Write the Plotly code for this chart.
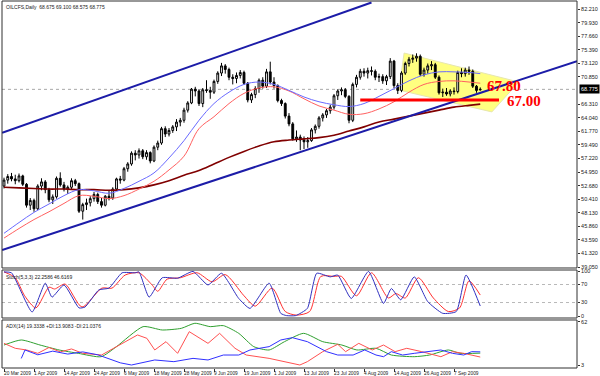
import plotly.graph_objects as go

# ---------------- data ----------------
opens = [52.6,53.6,54.2,53.8,53.5,54.3,52.9,49.4,50.2,48.8,52.6,53.3,52.0,50.3,50.8,53.9,52.8,52.1,52.4,53.5,
         53.0,48.4,49.5,49.8,50.5,51.2,50.0,49.4,50.9,50.6,52.1,53.8,53.6,55.5,56.3,58.1,57.8,58.5,57.5,58.2,
         56.8,59.1,59.8,62.2,61.3,61.9,62.5,63.3,63.6,65.3,66.5,68.8,68.5,66.4,68.7,68.6,68.3,70.1,71.5,72.7,
         72.1,70.8,70.6,71.1,71.6,69.8,67.0,67.9,68.9,70.3,69.3,71.7,70.0,69.4,66.9,66.4,64.3,63.0,60.5,60.8,
         60.3,60.0,60.2,62.0,62.6,64.0,64.5,65.2,65.8,67.7,68.5,68.7,67.6,63.6,69.6,70.8,71.8,71.5,71.9,71.8,
         70.8,70.9,70.2,70.9,73.5,69.4,68.6,71.5,73.1,73.8,74.0,74.3,71.3,72.0,72.7,72.9,70.8,68.2,68.3,68.0,
         68.5,68.4,71.6,71.4,72.0,71.8,69.3,68.675]
highs = [54.0,54.6,54.8,54.5,54.7,54.5,53.1,50.6,50.5,52.9,53.9,53.6,52.3,51.2,54.2,54.9,53.3,52.7,53.9,53.8,
         53.2,49.8,50.5,50.9,51.6,51.5,50.6,51.1,51.8,52.4,54.0,54.3,55.8,56.6,58.4,58.6,58.9,58.8,58.6,58.4,
         59.4,60.2,62.5,62.6,62.3,62.8,63.8,64.0,65.7,66.8,69.0,69.2,68.8,69.0,70.3,69.2,70.4,71.8,73.2,73.0,
         72.4,71.3,71.6,72.0,71.9,70.0,68.2,69.3,70.6,70.8,72.2,73.4,70.8,69.6,67.2,66.6,64.8,63.3,61.9,61.2,
         60.9,60.8,62.3,62.9,64.3,64.8,65.5,66.2,68.0,68.8,69.1,69.0,67.8,69.9,71.2,72.2,72.3,72.4,72.6,72.1,
         71.4,71.3,71.2,74.0,73.7,69.8,71.8,73.4,74.2,74.6,74.8,74.6,72.4,73.1,73.5,73.2,71.1,68.9,69.0,68.8,
         69.1,71.9,72.3,72.4,72.6,72.1,69.5,69.1]
lows = [52.2,53.0,53.4,52.9,53.2,52.6,49.0,48.6,48.3,48.6,51.9,51.4,49.9,49.6,50.5,52.5,51.7,51.3,52.1,52.6,
        48.1,47.0,48.6,49.2,50.0,49.6,49.0,49.2,50.2,50.3,51.9,53.0,53.4,55.0,56.0,56.9,57.2,57.1,57.0,56.4,
        56.6,58.6,59.5,60.8,60.9,61.5,61.8,62.6,63.2,64.9,66.3,67.6,66.0,65.8,68.2,67.2,68.0,69.7,71.0,71.4,
        70.3,69.6,69.8,70.6,69.5,66.6,66.5,67.3,68.2,68.9,69.0,69.6,68.9,66.6,66.0,63.9,62.6,60.2,60.0,58.6,
        58.8,59.0,60.0,61.4,62.2,63.4,64.0,64.7,65.4,67.0,67.8,67.3,63.1,63.3,69.1,70.4,70.9,70.6,71.1,70.3,
        70.0,69.7,69.5,70.5,69.0,68.0,68.3,71.2,72.6,73.2,73.4,71.0,70.9,71.4,72.0,70.5,67.9,67.5,67.7,67.6,
        67.9,68.1,70.8,70.9,71.2,69.0,68.2,68.575]
closes = [53.6,54.2,53.8,53.5,54.3,52.9,49.4,50.2,48.8,52.6,53.3,52.0,50.3,50.8,53.9,52.8,52.1,52.4,53.5,53.0,
          48.4,49.5,49.8,50.5,51.2,50.0,49.4,50.9,50.6,52.1,53.8,53.6,55.5,56.3,58.1,57.8,58.5,57.5,58.2,56.8,
          59.1,59.8,62.2,61.3,61.9,62.5,63.3,63.6,65.3,66.5,68.8,68.5,66.4,68.7,68.6,68.3,70.1,71.5,72.7,72.1,
          70.8,70.6,71.1,71.6,69.8,67.0,67.9,68.9,70.3,69.3,71.7,70.0,69.4,66.9,66.4,64.3,63.0,60.5,60.8,60.3,
          60.0,60.2,62.0,62.6,64.0,64.5,65.2,65.8,67.7,68.5,68.7,67.6,63.6,69.6,70.8,71.8,71.5,71.9,71.8,70.8,
          70.9,70.2,70.9,73.5,69.4,68.6,71.5,73.1,73.8,74.0,74.3,71.3,72.0,72.7,72.9,70.8,68.2,68.3,68.0,68.5,
          68.4,71.6,71.4,72.0,71.8,69.3,68.6,68.775]
bars = list(range(len(closes)))

date_labels = ["20 Mar 2009", "1 Apr 2009", "14 Apr 2009", "24 Apr 2009", "6 May 2009", "18 May 2009",
               "28 May 2009", "9 Jun 2009", "19 Jun 2009", "1 Jul 2009", "13 Jul 2009", "23 Jul 2009",
               "4 Aug 2009", "14 Aug 2009", "26 Aug 2009", "7 Sep 2009"]
date_label_bars = [0, 8, 16, 24, 32, 40, 48, 56, 64, 72, 80, 88, 96, 104, 112, 120]

ma_bars = [0,4,8,12,16,20,24,28,32,36,40,44,48,52,56,60,64,68,72,76,80,84,88,92,96,100,104,108,112,116,120,124,127]
ma_fast = [44.7,46.5,48.2,49.6,51.0,52.0,51.8,51.4,52.2,53.4,54.8,57.3,60.2,63.6,66.4,68.3,69.6,70.0,69.6,68.6,
           67.5,66.7,66.2,65.9,66.4,67.6,68.9,70.2,71.2,71.7,71.7,71.6,71.4]
ma_mid = [43.9,45.5,47.0,48.3,49.7,51.0,50.9,50.5,51.0,52.1,53.4,55.3,57.6,62.2,64.2,66.4,68.1,69.0,69.2,68.5,
          67.2,66.0,65.3,64.6,64.7,65.5,66.7,68.3,69.6,70.1,70.2,70.0,69.8]
ma_slow = [52.4,52.3,52.2,52.1,52.1,52.0,52.0,51.9,52.0,52.3,52.8,53.5,54.4,55.2,56.3,57.4,58.4,59.3,60.0,60.3,
           60.5,60.7,61.1,61.8,62.5,63.3,63.8,64.3,64.8,65.3,65.8,66.1,66.3]

channel_lower_x = [-0.5, 152.8]
channel_lower_y = [41.9, 73.5]
channel_upper_x = [-0.5, 98.0]
channel_upper_y = [61.5, 83.3]

triangle_x = [106.7, 137.3, 130.1, 105.3]
triangle_y = [74.85, 70.0, 65.0, 68.66]

support_x = [95, 132]
support_level = 67.00
label_6780 = "67.80"
label_6700 = "67.00"

price_tick_vals = [82.210, 79.938, 77.667, 75.395, 73.124, 70.852, 66.309, 64.038, 61.766, 59.495,
                   57.223, 54.952, 52.680, 50.409, 48.137, 45.866, 43.594, 41.323, 39.051]
price_tick_text = ["82.210", "79.930", "77.660", "75.390", "73.120", "70.850", "66.310", "64.040", "61.770",
                   "59.490", "57.220", "54.950", "52.680", "50.410", "48.130", "45.860", "43.590", "41.320", "39.050"]

stoch_k_x = [0, 2, 7.5, 11, 12.8, 16, 20, 21.6, 25.3, 28, 31.5, 35, 36, 38.7, 42.2, 46.3, 50.4, 54.4, 58, 62.6,
             65.6, 70.7, 73.8, 75.3, 77.8, 80.9, 83.4, 87, 89, 92.6, 97.2, 101.2, 103.3, 105.8, 109.4, 113, 117,
             120.6, 123.2, 127]
stoch_k = [98, 96, 9, 73, 42, 69, 18, 20, 58, 62, 96, 96, 98, 42, 85, 84, 99, 69, 95, 39,
           17, 73, 6, 1, 1, 17, 95, 87, 91, 39, 99, 28, 61, 36, 87, 32, 6,
           10, 91, 22.26]
stoch_d_x = [0, 3, 5.5, 8.5, 12, 13.5, 16.3, 20.8, 26.1, 28.8, 32.3, 36, 39.5, 41, 43.5, 47, 51.5, 55.5, 59, 64,
             67, 71.5, 75, 78, 81.5, 84.5, 88, 90, 94, 98, 102.5, 104.5, 107, 110.5, 114.5, 118.5, 121.5, 124, 127]
stoch_d = [98, 85, 45, 18, 64, 60, 71, 20, 62, 62, 91, 96, 69, 55, 82, 85, 96, 76, 92, 45,
           22, 62, 10, 2, 10, 88, 88, 88, 45, 96, 40, 50, 40, 85, 40, 10, 18, 78, 46.62]

adx_x = [0, 4.6, 9.6, 14.7, 19.8, 25.9, 30, 37.1, 42.2, 47.3, 50.9, 55, 58.5, 62.6, 66.6, 70.7, 74.8, 79.9,
         85, 90.1, 94.1, 99.2, 103.3, 109.4, 113.5, 118.5, 121.6, 127]
adx_main = [30.4, 37.3, 30.4, 23.6, 19, 14.4, 28.2, 55.6, 51, 53.3, 60.2, 55.6, 57, 46.4, 28.2, 23.6, 35, 46.4,
            35, 30.4, 23.6, 25.9, 16.7, 14.4, 16.7, 23.6, 19, 19.33]
pdi_x = [4.6, 5.6, 9, 13, 17, 21, 25, 28, 31, 34, 40.2, 45.3, 50.4, 54.4, 58.5, 62.6, 65.6, 70.7, 73.8, 76.9,
         80.9, 86, 89, 93.1, 96.2, 99.2, 101.2, 103.3, 106.3, 109.4, 112.5, 116.5, 119.6, 122.6, 124.7, 127]
pdi = [12, 23.6, 17, 22, 18, 21, 17, 12, 6, 3, 9.9, 7.6, 12.1, 9.9, 16.7, 16.7, 23.6, 28.2, 37.3, 40.5,
       35, 21.3, 16.7, 16.7, 23.6, 16.7, 14.4, 21.3, 16.7, 19, 21.3, 23.6, 19, 16.7, 21.3, 21.04]
mdi_x = [0, 3, 6, 9, 12, 15, 18, 21, 26, 33, 35.6, 38.1, 40.2, 43.2, 46.3, 49.4, 54.4, 57.5, 61.6, 64.6, 70.7,
         78.9, 80.9, 85, 89, 91.1, 94.6, 98.2, 101.2, 104.3, 107.4, 111.4, 116.5, 119.6, 122.6, 127]
mdi = [32.7, 25.9, 23.6, 19, 27, 21, 25, 19, 16.7, 37.3, 44.2, 39.6, 23.6, 35, 19, 48.7, 32.7, 46.4, 25.9, 16.7,
       12.1, 3, 7.6, 21.3, 31.4, 21.3, 32.7, 23.6, 30.4, 21.3, 25.9, 21.3, 14.4, 21.3, 19, 13.91]

title_text = "OILCFS,Daily  68.675 69.100 68.575 68.775"
stoch_title = "Stoch(5,3,3) 22.2586 46.6169"
adx_title = "ADX(14) 19.3338 +DI:13.9083 -DI:21.0376"

# ---------------- figure ----------------
FONT = "Liberation Sans, Arial, sans-serif"
SMALL = 5.5
fig = go.Figure()

# moving averages
fig.add_trace(go.Scatter(x=ma_bars, y=ma_slow, mode="lines", line=dict(color="#800000", width=1.6, shape="spline"),
                         xaxis="x", yaxis="y"))
fig.add_trace(go.Scatter(x=ma_bars, y=ma_mid, mode="lines", line=dict(color="#ff6060", width=1, shape="spline"),
                         xaxis="x", yaxis="y"))
fig.add_trace(go.Scatter(x=ma_bars, y=ma_fast, mode="lines", line=dict(color="#6a6aff", width=1, shape="spline"),
                         xaxis="x", yaxis="y"))

# candles
fig.add_trace(go.Candlestick(x=bars, open=opens, high=highs, low=lows, close=closes,
                             increasing=dict(line=dict(color="black", width=1), fillcolor="white"),
                             decreasing=dict(line=dict(color="black", width=1), fillcolor="black"),
                             whiskerwidth=0, xaxis="x", yaxis="y"))

# channel lines
fig.add_trace(go.Scatter(x=channel_lower_x, y=channel_lower_y, mode="lines",
                         line=dict(color="#1c1ca8", width=2), xaxis="x", yaxis="y"))
fig.add_trace(go.Scatter(x=channel_upper_x, y=channel_upper_y, mode="lines",
                         line=dict(color="#1c1ca8", width=2), xaxis="x", yaxis="y"))

# support line
fig.add_trace(go.Scatter(x=support_x, y=[support_level, support_level], mode="lines",
                         line=dict(color="#ff0000", width=3), xaxis="x", yaxis="y"))

# stochastic
fig.add_trace(go.Scatter(x=stoch_d_x, y=stoch_d, mode="lines",
                         line=dict(color="#ff3030", width=1, shape="spline", smoothing=0.7),
                         xaxis="x", yaxis="y2"))
fig.add_trace(go.Scatter(x=stoch_k_x, y=stoch_k, mode="lines",
                         line=dict(color="#3030c0", width=1, shape="spline", smoothing=0.5),
                         xaxis="x", yaxis="y2"))

# ADX
fig.add_trace(go.Scatter(x=adx_x, y=adx_main, mode="lines",
                         line=dict(color="#30a030", width=1, shape="spline", smoothing=0.6),
                         xaxis="x", yaxis="y3"))
fig.add_trace(go.Scatter(x=mdi_x, y=mdi, mode="lines", line=dict(color="#ff5050", width=1),
                         xaxis="x", yaxis="y3"))
fig.add_trace(go.Scatter(x=pdi_x, y=pdi, mode="lines", line=dict(color="#3030ff", width=1),
                         xaxis="x", yaxis="y3"))

last_close = closes[-1]
XR = [-0.533, 152.8]

shapes = []
# yellow pennant behind the candles
tri_path = "M " + " L ".join("%g,%g" % (a, b) for a, b in zip(triangle_x, triangle_y)) + " Z"
shapes.append(dict(type="path", xref="x", yref="y", path=tri_path, fillcolor="#ffff80",
                   line=dict(color="#e6e6b0", width=1), layer="below"))
# current price dotted line
shapes.append(dict(type="line", xref="paper", yref="y", x0=0, x1=1, y0=last_close, y1=last_close,
                   line=dict(color="#a8a8a8", width=1, dash="dot"), layer="below"))
# stochastic levels
for lv in (70, 30):
    shapes.append(dict(type="line", xref="paper", yref="y2", x0=0, x1=1, y0=lv, y1=lv,
                       line=dict(color="#b8b8b8", width=1, dash="dot"), layer="below"))
# panel frames
for d0, d1 in ((0.2725, 1.0), (0.1362, 0.2670), (0.0, 0.1308)):
    shapes.append(dict(type="rect", xref="paper", yref="paper", x0=0, x1=1, y0=d0, y1=d1,
                       line=dict(color="#303030", width=1)))

annotations = []
annotations.append(dict(text=title_text, xref="paper", yref="paper", x=0.004, y=0.996, xanchor="left", yanchor="top",
                        showarrow=False, font=dict(family=FONT, size=5, color="#202020")))
annotations.append(dict(text=stoch_title, xref="paper", yref="paper", x=0.004, y=0.262, xanchor="left", yanchor="top",
                        showarrow=False, font=dict(family=FONT, size=5, color="#202020")))
annotations.append(dict(text=adx_title, xref="paper", yref="paper", x=0.004, y=0.127, xanchor="left", yanchor="top",
                        showarrow=False, font=dict(family=FONT, size=5, color="#202020")))
for b, t in zip(date_label_bars, date_labels):
    annotations.append(dict(text=t, xref="x", yref="paper", x=b, y=-0.003, xanchor="left", yanchor="top",
                            showarrow=False, xshift=-2, font=dict(family=FONT, size=4.8, color="#202020")))
annotations.append(dict(text="<b>" + label_6780 + "</b>", xref="x", yref="y", x=128.3, y=69.3, xanchor="left",
                        yanchor="middle", showarrow=False,
                        font=dict(family="Liberation Serif, Times New Roman, serif", size=15, color="#ff0000")))
annotations.append(dict(text="<b>" + label_6700 + "</b>", xref="x", yref="y", x=133.6, y=66.8, xanchor="left",
                        yanchor="middle", showarrow=False,
                        font=dict(family="Liberation Serif, Times New Roman, serif", size=15, color="#ff0000")))
annotations.append(dict(text="%.3f" % last_close, xref="paper", yref="y", x=1.0, y=last_close, xanchor="left",
                        yanchor="middle", showarrow=False, bgcolor="black", borderpad=1, xshift=2,
                        font=dict(family=FONT, size=SMALL, color="white")))
adx_tick_vals = [62, 3]

tickfont = dict(family=FONT, size=SMALL, color="#202020")
fig.update_layout(
    width=600, height=376, margin=dict(l=2, r=23, t=1, b=8, autoexpand=False),
    paper_bgcolor="white", plot_bgcolor="white", showlegend=False,
    xaxis=dict(range=XR, domain=[0, 1], anchor="y3", showticklabels=False, ticks="outside", ticklen=3,
               tickvals=date_label_bars, tickcolor="#303030", showgrid=False, zeroline=False,
               rangeslider=dict(visible=False), fixedrange=True),
    yaxis=dict(domain=[0.2725, 1.0], range=[38.90, 83.55], side="right", anchor="x", tickvals=price_tick_vals,
               ticktext=price_tick_text, ticks="outside", ticklen=2, tickcolor="#303030",
               tickfont=tickfont, showgrid=False, zeroline=False),
    yaxis2=dict(domain=[0.1362, 0.2670], range=[-4.4, 102.2], side="right", anchor="x", tickvals=[100, 70, 30, 0],
                ticks="outside", ticklen=2, tickcolor="#303030",
                tickfont=tickfont, showgrid=False, zeroline=False),
    yaxis3=dict(domain=[0.0, 0.1308], range=[-1.1, 64.7], side="right", anchor="x", tickvals=adx_tick_vals,
                ticks="outside", ticklen=2, tickcolor="#303030",
                tickfont=tickfont, showgrid=False, zeroline=False),
    shapes=shapes, annotations=annotations,
)

fig.write_html("out.html", config={"displayModeBar": False, "staticPlot": True},
               post_script="document.body.style.margin='0';document.body.style.overflow='hidden';")
